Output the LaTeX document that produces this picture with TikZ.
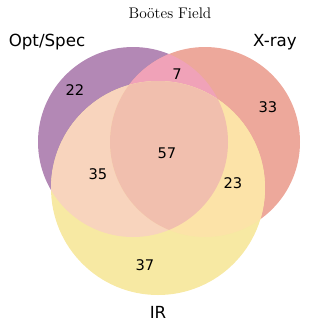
\documentclass[tikz,border=0pt]{standalone}
\usepackage{fontspec}
\setsansfont{DejaVu Sans}
\definecolor{optonly}{HTML}{B388B5}
\definecolor{xonly}{HTML}{EDA89B}
\definecolor{ironly}{HTML}{F7E9A3}
\definecolor{optx}{HTML}{F0A2B8}
\definecolor{optir}{HTML}{F8D4BD}
\definecolor{xir}{HTML}{FCE3A8}
\definecolor{allthree}{HTML}{F1BFAE}
\tikzset{
	setlabel/.style={font=\sffamily\fontsize{12.5}{14}\selectfont},
	count/.style={font=\sffamily\fontsize{11}{13}\selectfont}
}
\def\optcirc{(133,142) circle (95)}
\def\xcirc{(205,142) circle (95)}
\def\ircirc{(158,188) circle (107)}
\begin{document}
\begin{tikzpicture}[x=0.75pt,y=-0.75pt]
	\useasboundingbox (0,0) rectangle (332,330);
	% single sets
	\fill[optonly] \optcirc;
	\fill[xonly] \xcirc;
	\fill[ironly] \ircirc;
	% pairwise overlaps
	\begin{scope}
		\clip \optcirc;
		\fill[optx] \xcirc;
		\fill[optir] \ircirc;
	\end{scope}
	\begin{scope}
		\clip \xcirc;
		\fill[xir] \ircirc;
	\end{scope}
	% all three
	\begin{scope}
		\clip \optcirc;
		\clip \xcirc;
		\fill[allthree] \ircirc;
	\end{scope}
	% titles
	\node (title) at (170,13) {\fontsize{11.5}{13}\selectfont Bo\"otes Field};
	\node[setlabel] (opt) at (47,42) {Opt/Spec};
	\node[setlabel] (xray) at (275,42) {X-ray};
	\node[setlabel] (ir) at (158,312) {IR};
	% counts
	\node[count] (n100) at (75,90) {22};
	\node[count] (n110) at (177,74) {7};
	\node[count] (n010) at (268,107) {33};
	\node[count] (n111) at (167,153) {57};
	\node[count] (n101) at (98,174) {35};
	\node[count] (n011) at (233,183) {23};
	\node[count] (n001) at (145,265) {37};
\end{tikzpicture}
\end{document}
